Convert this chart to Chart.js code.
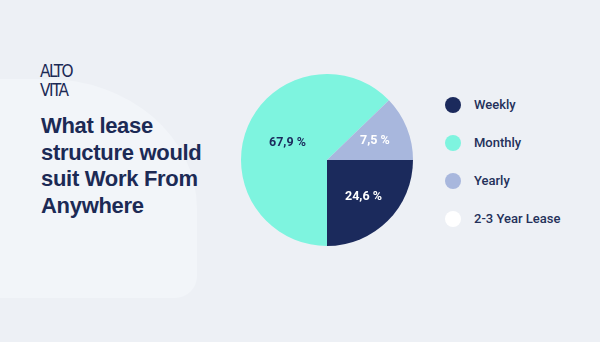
<!DOCTYPE html>
<html>
<head>
<meta charset="utf-8">
<script src="https://cdn.jsdelivr.net/npm/chart.js@4"></script>
<style>
  html,body{margin:0;padding:0;}
  body{width:600px;height:342px;background:#edf0f5;position:relative;overflow:hidden;font-family:Roboto,"Open Sans",sans-serif;}
  .blob{position:absolute;left:-120px;top:79px;width:317px;height:219px;background:#f2f5f9;border-radius:0 150px 22px 0 / 0 130px 22px 0;}
  .logo{position:absolute;left:40px;top:62px;color:#1c2a55;font-family:"DejaVu Sans Condensed","DejaVu Sans",sans-serif;font-weight:200;font-size:17px;line-height:19px;letter-spacing:-1.5px;}
  h1{position:absolute;left:41px;top:113px;margin:0;color:#1c2a55;font-family:"Liberation Sans",Arial,sans-serif;font-weight:700;font-size:22px;line-height:26.5px;letter-spacing:-0.3px;}
  .pie{position:absolute;left:241px;top:74px;width:172px;height:172px;}
  ul{position:absolute;left:445px;top:94px;margin:0;padding:0;list-style:none;}
  li{height:38px;display:flex;align-items:flex-start;color:#24305a;font-size:13px;font-weight:500;line-height:22px;}
  li span.dot{width:16px;height:16px;border-radius:50%;margin:3px 13px 0 0;flex:none;}
</style>
</head>
<body>
<div class="blob"></div>
<div class="logo">ALTO<br>VITA</div>
<h1>What lease<br>structure would<br>suit Work From<br>Anywhere</h1>
<div class="pie"><canvas id="chart"></canvas></div>
<ul id="legend"></ul>
<script>
const categories=['Weekly','Monthly','Yearly','2-3 Year Lease'];
// slice sizes as drawn in the picture (the printed labels do not match the geometry)
const sliceShares=[25,62.8,12.2,0];
const sliceText=['24,6 %','67,9 %','7,5 %',''];
const sliceColors=['#1b2a5c','#7ef4df','#a8b7dd','#ffffff'];
const labelColors=['#ffffff','#1b2a5c','#ffffff','#1b2a5c'];

const sliceLabels={
  id:'sliceLabels',
  afterDatasetsDraw(chart){
    const ctx=chart.ctx;
    const meta=chart.getDatasetMeta(0);
    ctx.save();
    ctx.font='bold 12.5px Roboto, sans-serif';
    ctx.textAlign='center';ctx.textBaseline='middle';
    meta.data.forEach((arc,i)=>{
      if(!sliceShares[i]) return;
      const p=arc.getProps(['x','y','startAngle','endAngle','outerRadius'],true);
      const mid=(p.startAngle+p.endAngle)/2;
      const r=p.outerRadius*(sliceShares[i]>50?0.5:0.6);
      ctx.fillStyle=labelColors[i];
      ctx.fillText(sliceText[i],p.x+Math.cos(mid)*r,p.y+Math.sin(mid)*r);
    });
    ctx.restore();
  }
};

const chart=new Chart(document.getElementById('chart').getContext('2d'),{
  type:'pie',
  data:{labels:categories,datasets:[{data:sliceShares,backgroundColor:sliceColors,borderWidth:0}]},
  options:{responsive:true,maintainAspectRatio:false,animation:false,rotation:90,
    layout:{padding:0},
    plugins:{legend:{display:false},tooltip:{enabled:false}}},
  plugins:[sliceLabels]
});

const ul=document.getElementById('legend');
categories.forEach((c,i)=>{
  const li=document.createElement('li');
  li.innerHTML='<span class="dot" style="background:'+sliceColors[i]+'"></span>'+c;
  ul.appendChild(li);
});
</script>
</body>
</html>
